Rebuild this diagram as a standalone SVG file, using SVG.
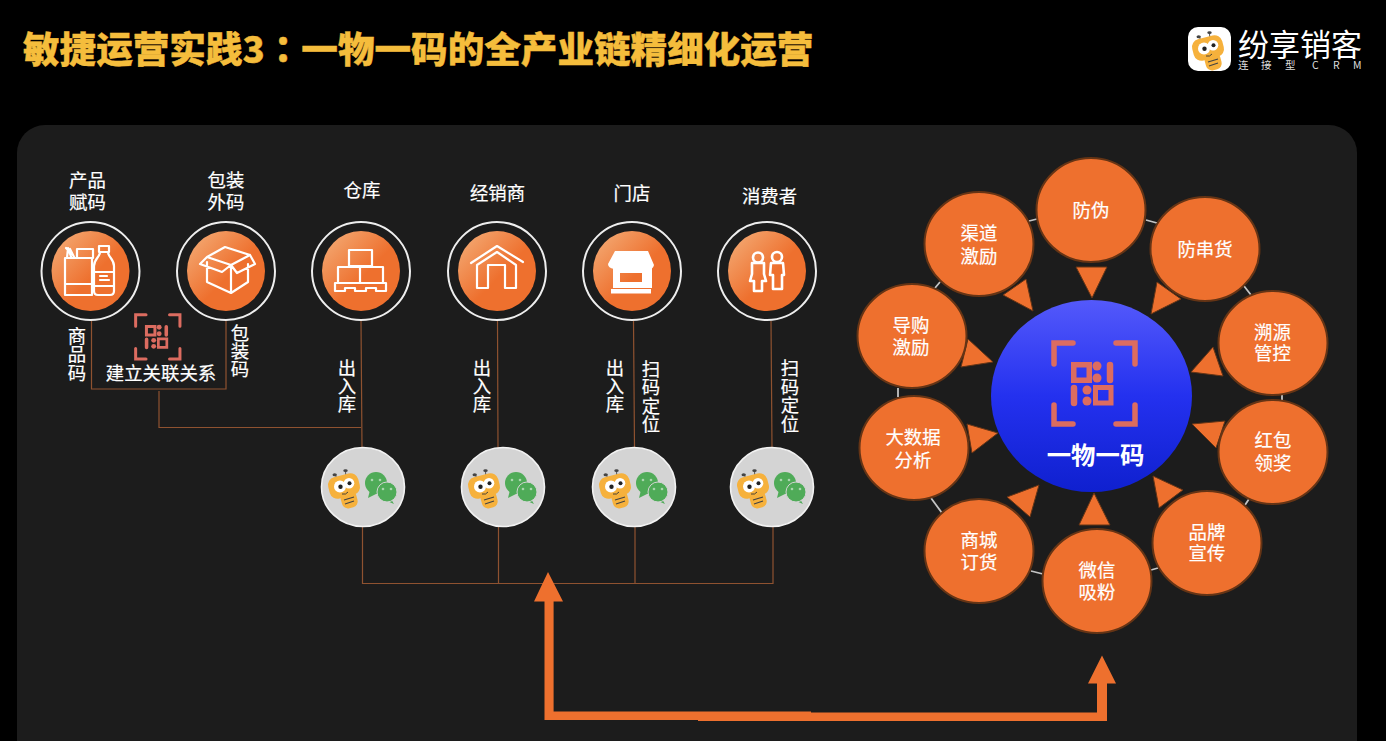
<svg xmlns="http://www.w3.org/2000/svg" width="1386" height="741" viewBox="0 0 1386 741">
<style>
text{font-family:"Noto Sans CJK SC","Noto Sans",sans-serif;fill:#fff}
.l,.v{font-size:18.4px;text-anchor:middle;stroke:#fff;stroke-width:.2}
.v{writing-mode:vertical-rl}
.ring{fill:none;stroke:#eee;stroke-width:2}
.disc{fill:url(#og)}
.i{fill:none;stroke:#fff;stroke-width:2.2;stroke-linejoin:round;stroke-linecap:round}
.w{fill:#fff;stroke:none}
.wire{fill:none;stroke:#8f5230;stroke-width:1.2}
.petal{fill:#ee702e;stroke:#653415;stroke-width:2}
.tri{fill:#ee702e;stroke:#653415;stroke-width:1}
.link{stroke:#c4c4c4;stroke-width:1.8;fill:none}
.thick{fill:#ee702e}
.grey{fill:#d4d4d4;stroke:#f2f2f2;stroke-width:1.6}
</style>
<defs>
<linearGradient id="og" x1="0.1" y1="0.1" x2="0.7" y2="0.7"><stop offset="0" stop-color="#f3a56e"/><stop offset="0.75" stop-color="#ee702e"/></linearGradient>
<linearGradient id="bg" x1="0" y1="0" x2="0" y2="1"><stop offset="0" stop-color="#5459fb"/><stop offset="0.5" stop-color="#2431ef"/><stop offset="1" stop-color="#0f20cf"/></linearGradient>
<g id="qr">
<path d="M22,3H3V24M65,3H84V24M3,65V84H22M84,65V84H65" fill="none" stroke="#dc6c60" stroke-width="5.5" stroke-linecap="round"/>
<path fill="#dc6c60" fill-rule="evenodd" d="M20,22H41V43H20ZM25.500,27.500V37.500H35.500V27.500ZM42,45H62.500V65.500H42ZM47,50V60.500H57.500V50Z"/>
<circle cx="46" cy="26" r="4.500" fill="#dc6c60"/><circle cx="46" cy="38" r="4.500" fill="#dc6c60"/><circle cx="36" cy="50" r="4.500" fill="#dc6c60"/><circle cx="36" cy="61" r="4.500" fill="#dc6c60"/>
<path d="M59,25V40M23,48V63" stroke="#dc6c60" stroke-width="6.500" stroke-linecap="round"/>
</g>
<g id="bee">
<path d="M-24,-6L-28,-12M-17,-8L-17.500,-16" stroke="#555" stroke-width="1"/>
<ellipse cx="-28.300" cy="-12.300" rx="2.200" ry="1.500" fill="#444"/><ellipse cx="-17.500" cy="-16.300" rx="2.200" ry="1.400" fill="#444"/>
<rect x="-8" y="-8" width="16" height="17" rx="6" fill="#f6b13c" transform="translate(-14,12) rotate(-15)"/>
<rect x="-15.500" y="-11" width="31" height="22" rx="8" fill="#f6b13c" transform="translate(-19,-1) rotate(-15)"/>
<circle cx="-23" cy="-0.500" r="6" fill="#fff"/><circle cx="-14" cy="-3.800" r="5.300" fill="#fff"/>
<circle cx="-22.500" cy="-0.300" r="2.200" fill="#222"/><circle cx="-13.500" cy="-3.800" r="2" fill="#222"/>
<path d="M-21,7Q-17,8-15,5" fill="none" stroke="#333" stroke-width="0.900"/>
<path d="M-19,13L-9,10M-18,17L-9,14" stroke="#444" stroke-width="1.300"/>
</g>
<g id="wx">
<path d="M7,3L5,11L13,7Z" fill="#4fab58"/><circle cx="13" cy="-4" r="11" fill="#4fab58"/>
<circle cx="9" cy="-7" r="1.300" fill="#a9d6ae"/><circle cx="17" cy="-7" r="1.300" fill="#a9d6ae"/>
<path d="M28,12L31,17L24,14Z" fill="#4fab58"/><circle cx="24" cy="5" r="10" fill="#4fab58" stroke="#d4d4d4" stroke-width="1"/>
<circle cx="20" cy="2" r="1.300" fill="#a9d6ae"/><circle cx="28" cy="2" r="1.300" fill="#a9d6ae"/>
</g>
</defs>
<rect width="1386" height="741" fill="#000"/>
<rect id="panel" x="17" y="125" width="1340" height="700" rx="28" fill="#1c1c1c"/>
<text id="title" x="23" y="63" style="font-size:36.600px;font-weight:900;fill:#f5bd3c;stroke:#f5bd3c;stroke-width:.4">敏捷运营实践3<tspan style="font-family:'Noto Sans CJK TC',sans-serif">：</tspan>一物一码的全产业链精细化运营</text>
<g id="logo">
<rect x="1188" y="27" width="43" height="44" rx="10" fill="#fff"/>
<use href="#bee" transform="translate(1227,49)"/>
<text x="1238" y="56" style="font-size:31px">纷享销客</text>
<text x="1238 1261 1285 1312 1333 1353" y="69" style="font-size:10.500px;fill:#ddd">连接型CRM</text>
</g>
<g id="connectors">
<path class="wire" d="M91.500,319V389H226V321M159,391V427.500H361M361,321L362,448M497.500,321L498,448M633.500,321L634.500,448M771,321L772,448M362.500,526V583.500H773V526M498.500,526V584M635,526V584"/>
<path class="thick" d="M548,572L563,601.500H553.600V711.500H811V720H544.500V601.500H534Z"/>
<path class="thick" d="M1102,655.500L1116,683.500H1107V721H698V712.500H1097V683.500H1088Z"/>
<g class="link"><path d="M1029,221L1037,219M935,288L940,282M898,388V397M1146,220L1157,223M1244,286L1251,295M1282,395V400M1249,499L1245,505M1158,568L1151,570M1031,571L1043,574M931,498L942,513"/></g>
<g class="tri">
<path d="M1076,267H1107L1092,298Z"/><path d="M1026,279L1033,311L1003,295Z"/><path d="M968,339L993,362L961,367Z"/><path d="M1157,282L1181,299L1151,314Z"/><path d="M1213,347L1223,376L1191,372Z"/><path d="M1225,421L1216,448L1192,424Z"/><path d="M1153,476L1183,490L1159,508Z"/><path d="M1094,493L1110,525H1079Z"/><path d="M1039,485L1030,517L1007,497Z"/><path d="M967,424L998,433L972,453Z"/>
</g>
</g>
<g id="n-product">
<text class="l"><tspan x="87.500" y="187">产品</tspan><tspan x="87.500" y="209">赋码</tspan></text>
<circle class="ring" cx="90.500" cy="271" r="49"/><ellipse class="disc" cx="90.500" cy="271" rx="39" ry="40"/>
<path class="i" d="M65,258H93M65,258V295H92V258M65,284H92M77,258V249H93V258M67,258L68,248M71,257C70,252 69,250 66,248M74,257L70,249"/>
<path class="i" d="M99,246H109V252H99ZM100,252C100,257 94,259 94,266V291Q94,295 98,295H110Q114,295 114,291V266C114,259 108,257 108,252M94,272H114M94,286H114M100,276H107M100,280H109"/>
</g>
<g id="n-package">
<text class="l"><tspan x="226" y="187">包装</tspan><tspan x="226" y="209">外码</tspan></text>
<circle class="ring" cx="226" cy="271" r="49"/><ellipse class="disc" cx="226" cy="271" rx="39" ry="40"/>
<path class="i" d="M207,262V282L231,293L248,282V264M231,293V266M207,257L225,247L250,255L231,265ZM207,257L200,264L222,272L231,265M250,255L255,264L237,273L231,265"/>
</g>
<g id="n-warehouse">
<text class="l" x="362" y="197">仓库</text>
<circle class="ring" cx="361" cy="271" r="49"/><ellipse class="disc" cx="361" cy="271" rx="39" ry="40"/>
<path class="i" d="M349,250H372V266H349ZM338,267H360V283H338ZM360,267H383V283H360ZM335,283H386V291H376V288H366V291H355V288H345V291H335Z"/>
</g>
<g id="n-dealer">
<text class="l" x="497.500" y="200">经销商</text>
<circle class="ring" cx="497" cy="271" r="49"/><ellipse class="disc" cx="497" cy="271" rx="39" ry="40"/>
<path class="i" d="M471,263L497,246L523,262M477,265V288H488V265H505V288H516V265L497,252L477,265"/>
</g>
<g id="n-store">
<text class="l" x="632" y="200">门店</text>
<circle class="ring" cx="632" cy="271" r="49"/><ellipse class="disc" cx="632" cy="271" rx="39" ry="40"/>
<path class="w" fill-rule="evenodd" d="M613,266H652V288H613ZM620,273V282H642V273Z"/>
<path class="w" d="M615,251H648L654,265Q653,270 647,270Q642,270 640,267Q636,271 631,270Q626,270 624,267Q620,271 614,269Q608,268 608,264Z"/>
<rect class="w" x="611" y="289" width="40" height="4.500"/>
</g>
<g id="n-consumer">
<text class="l" x="769.500" y="203">消费者</text>
<circle class="ring" cx="767" cy="271" r="49"/><ellipse class="disc" cx="767" cy="271" rx="39" ry="40"/>
<path class="i" style="stroke-width:2.600" d="M752,263H764V274L766,281H762V291H754V281H750L752,274ZM771,263H783L784,275H782V289H773V275H770Z"/>
<circle class="i" style="stroke-width:2.600" cx="758" cy="257.500" r="5"/><circle class="i" style="stroke-width:2.600" cx="777" cy="257" r="5"/>
</g>
<g id="relation">
<use href="#qr" transform="translate(134,313) scale(.547)"/>
<text class="l" x="161" y="379.500">建立关联关系</text>
</g>
<g id="side-labels">
<text class="v" x="77" y="354.500">商品码</text>
<text class="v" x="240" y="351">包装码</text>
<text class="v" x="347" y="386">出入库</text>
<text class="v" x="482" y="386">出入库</text>
<text class="v" x="615" y="386">出入库</text>
<text class="v" x="651" y="396.500">扫码定位</text>
<text class="v" x="790" y="396">扫码定位</text>
</g>
<g id="scan-1"><ellipse class="grey" cx="363" cy="487" rx="41.500" ry="39.500"/><use href="#bee" x="363" y="487"/><use href="#wx" x="363" y="487"/></g>
<g id="scan-2"><ellipse class="grey" cx="503" cy="487" rx="41.500" ry="39.500"/><use href="#bee" x="503" y="487"/><use href="#wx" x="503" y="487"/></g>
<g id="scan-3"><ellipse class="grey" cx="634" cy="487" rx="41.500" ry="39.500"/><use href="#bee" x="634" y="487"/><use href="#wx" x="634" y="487"/></g>
<g id="scan-4"><ellipse class="grey" cx="772" cy="487" rx="41.500" ry="39.500"/><use href="#bee" x="772" y="487"/><use href="#wx" x="772" y="487"/></g>
<g id="hub">
<ellipse cx="1091.500" cy="396" rx="100.500" ry="96" fill="url(#bg)"/>
<use href="#qr" transform="translate(1051,340)"/>
<text x="1095.500" y="464" style="font-size:24.400px;font-weight:700;text-anchor:middle">一物一码</text>
</g>
<g id="p1"><ellipse class="petal" cx="1091" cy="210" rx="54.500" ry="52"/><text class="l" x="1091" y="217">防伪</text></g>
<g id="p2"><ellipse class="petal" cx="1205" cy="249" rx="54.500" ry="52"/><text class="l" x="1205" y="255.500">防串货</text></g>
<g id="p3"><ellipse class="petal" cx="1273" cy="343" rx="54.500" ry="52"/><text class="l"><tspan x="1272.500" y="338.500">溯源</tspan><tspan x="1272.500" y="360">管控</tspan></text></g>
<g id="p4"><ellipse class="petal" cx="1273" cy="452" rx="54.500" ry="52"/><text class="l"><tspan x="1273" y="446.500">红包</tspan><tspan x="1273" y="469.500">领奖</tspan></text></g>
<g id="p5"><ellipse class="petal" cx="1207" cy="543" rx="54.500" ry="52"/><text class="l"><tspan x="1207" y="538.500">品牌</tspan><tspan x="1207" y="560">宣传</tspan></text></g>
<g id="p6"><ellipse class="petal" cx="1097" cy="581" rx="54.500" ry="52"/><text class="l"><tspan x="1097" y="576.500">微信</tspan><tspan x="1097" y="598.500">吸粉</tspan></text></g>
<g id="p7"><ellipse class="petal" cx="979" cy="551" rx="54.500" ry="52"/><text class="l"><tspan x="979" y="546.500">商城</tspan><tspan x="979" y="568.500">订货</tspan></text></g>
<g id="p8"><ellipse class="petal" cx="914" cy="448" rx="54.500" ry="52"/><text class="l"><tspan x="913" y="443.500">大数据</tspan><tspan x="913" y="467">分析</tspan></text></g>
<g id="p9"><ellipse class="petal" cx="912" cy="336" rx="54.500" ry="52"/><text class="l"><tspan x="911" y="332">导购</tspan><tspan x="911" y="354">激励</tspan></text></g>
<g id="p10"><ellipse class="petal" cx="979" cy="244" rx="54.500" ry="52"/><text class="l"><tspan x="979" y="239.500">渠道</tspan><tspan x="979" y="263">激励</tspan></text></g>
</svg>
